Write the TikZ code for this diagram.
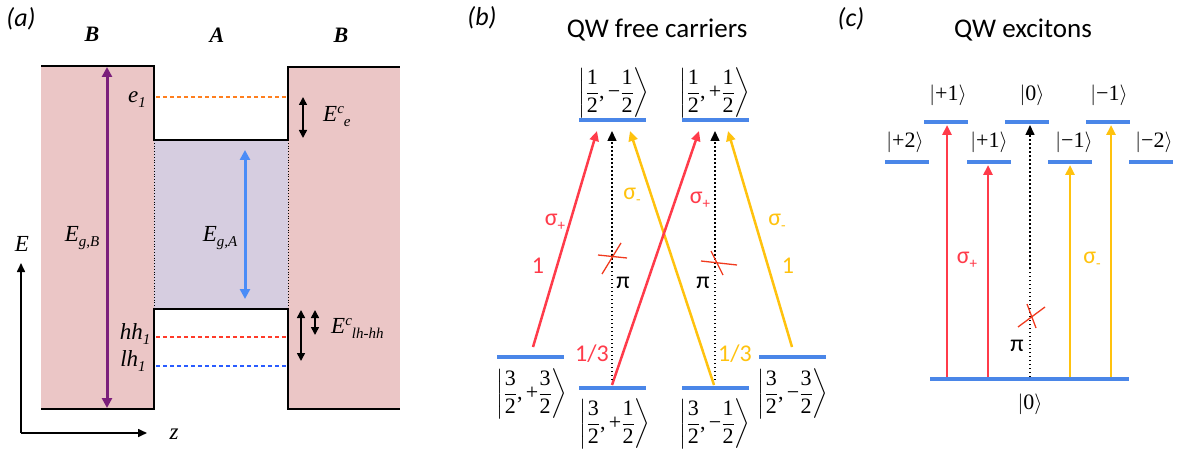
\documentclass[tikz,border=0pt]{standalone}
\usepackage{amsmath}
\usepackage{fontspec}
\setmainfont{Liberation Serif}
\newfontfamily\cfont{Carlito}
\usetikzlibrary{arrows.meta}
\definecolor{pinkB}{HTML}{EBC6C6}
\definecolor{wellA}{HTML}{D6CDE0}
\definecolor{purp}{HTML}{7B1F7B}
\definecolor{bluA}{HTML}{4A8CF7}
\definecolor{barblue}{HTML}{4A86E8}
\definecolor{sred}{HTML}{FF3B4A}
\definecolor{syel}{HTML}{FFC20E}
\definecolor{dorange}{HTML}{FF7F1E}
\definecolor{dred}{HTML}{FF3B2A}
\definecolor{dblue}{HTML}{2A5CFF}
\definecolor{xred}{HTML}{F03A1E}
\newcommand{\fs}[1]{\fontsize{#1}{#1}\selectfont}
\newcommand{\mysub}[1]{\raisebox{-5pt}{\fs{15}\textit{#1}}}
\newcommand{\mysup}[1]{\raisebox{8pt}{\fs{15}\textit{#1}}}
\newcommand{\tfr}[2]{\dfrac{\text{#1}}{\text{#2}}}
\newcommand{\myket}[3]{$\left|\tfr{#1}{2}\text{,}\,\text{#2}\tfr{#3}{2}\right\rangle$}
\newcommand{\sket}[1]{$|\text{#1}\rangle$}
\begin{document}
\begin{tikzpicture}[x=1pt,y=-1pt,
  lvl/.style={fill=barblue, minimum height=4.5pt, inner sep=0pt, draw=none},
  lbl/.style={inner sep=0pt, font=\fs{23}\itshape},
  panel/.style={inner sep=0pt, font=\cfont\fs{26}\itshape},
  ttl/.style={inner sep=0pt, font=\cfont\fs{27}},
  sl/.style={inner sep=0pt, font=\cfont\fs{24}},
  ketn/.style={inner sep=0pt, font=\fs{22}},
  tran/.style={line width=2.5pt, -{Triangle[length=10pt,width=9pt]}},
  dtran/.style={line width=1.5pt, dash pattern=on 1.5pt off 2.5pt, -{Triangle[length=10pt,width=9pt]}},
  dbl/.style={line width=1.6pt, {Triangle[length=8pt,width=8pt]}-{Triangle[length=8pt,width=8pt]}},
  xline/.style={xred, line width=1.3pt},
  lev/.style={dash pattern=on 4pt off 3pt, line width=1.4pt}
]
\useasboundingbox (0,0) rectangle (1177,454);

% ---------------- panel (a) ----------------
\fill[pinkB] (41,66) rectangle (154,409);
\fill[pinkB] (288,67) rectangle (400,409);
\fill[wellA] (154,140) rectangle (288,309);
\draw[dotted, line width=0.8pt] (154,140) -- (154,309) (288,140) -- (288,309);
\draw[line width=1.6pt] (41,66) -- (154,66) -- (154,140) -- (288,140) -- (288,67) -- (400,67);
\draw[line width=1.6pt] (41,409) -- (154,409) -- (154,309) -- (288,309) -- (288,409) -- (400,409);
\draw[lev, dorange] (156,97) -- (288,97);
\draw[lev, dred] (156,337) -- (288,337);
\draw[lev, dblue] (156,366) -- (288,366);
\draw[purp, line width=3pt, {Triangle[length=10pt,width=10pt]}-{Triangle[length=10pt,width=10pt]}] (107,67) -- (107,408);
\draw[bluA, line width=3pt, {Triangle[length=10pt,width=10pt]}-{Triangle[length=10pt,width=10pt]}] (245,150) -- (245,299);
\draw[dbl] (303,97) -- (303,138);
\draw[dbl] (301,310) -- (301,361);
\draw[dbl] (315,310) -- (315,335);
\coordinate (org) at (21,433);
\coordinate (eax) at (21,263);
\coordinate (zax) at (147,433);
\draw[line width=1.6pt, -{Triangle[length=9pt,width=8pt]}] (org) -- (eax);
\draw[line width=1.6pt, -{Triangle[length=9pt,width=8pt]}] (org) -- (zax);
\node[panel] (pa) at (21,19) {(a)};
\node[lbl, font=\fs{22}\bfseries\itshape] (tb1) at (92,34) {B};
\node[lbl, font=\fs{22}\bfseries\itshape] (ta) at (217,35) {A};
\node[lbl, font=\fs{22}\bfseries\itshape] (tb2) at (341,35) {B};
\node[lbl] (le1) at (137,100) {e\mysub{1}};
\node[lbl] (lhh) at (135,334) {hh\mysub{1}};
\node[lbl] (llh) at (133,361) {lh\mysub{1}};
\node[lbl] (legb) at (82,238) {E\mysub{g,B}};
\node[lbl] (lega) at (220,238) {E\mysub{g,A}};
\node[lbl, anchor=west] (lece) at (323,117) {E\mysup{c}\mysub{e}};
\node[lbl, anchor=west] (lecl) at (331,328) {E\mysup{c}\mysub{lh-hh}};
\node[lbl] (lE) at (22,244) {E};
\node[lbl] (lz) at (174,434) {z};

% ---------------- panel (b) ----------------
\node[panel] (pb) at (482,18) {(b)};
\node[ttl] (tb) at (657,30) {QW free carriers};
\node[lvl, minimum width=67pt] (u1) at (612.5,120) {};
\node[lvl, minimum width=67pt] (u2) at (715.5,120) {};
\node[lvl, minimum width=67pt] (d1) at (530.5,357) {};
\node[lvl, minimum width=67pt] (d2) at (612.5,388) {};
\node[lvl, minimum width=67pt] (d3) at (715.5,388) {};
\node[lvl, minimum width=67pt] (d4) at (792.5,357) {};
\node[ketn] (ku1) at (614,93) {\myket{1}{−}{1}};
\node[ketn] (ku2) at (715,93) {\myket{1}{+}{1}};
\node[ketn] (kd1) at (532,394) {\myket{3}{+}{3}};
\node[ketn] (kd2) at (615,424) {\myket{3}{+}{1}};
\node[ketn] (kd3) at (715,424) {\myket{3}{−}{1}};
\node[ketn] (kd4) at (793,394) {\myket{3}{−}{3}};
\coordinate (r1s) at (533,347);  \coordinate (r1e) at (597,131);
\coordinate (y1s) at (714,385);  \coordinate (y1e) at (630,131);
\coordinate (r2s) at (612,385);  \coordinate (r2e) at (699,131);
\coordinate (y2s) at (792,347);  \coordinate (y2e) at (728,131);
\coordinate (p1s) at (612,380);  \coordinate (p1e) at (612,131);
\coordinate (p2s) at (715,380);  \coordinate (p2e) at (715,131);
\draw[tran, sred] (r1s) -- (r1e);
\draw[tran, syel] (y1s) -- (y1e);
\draw[tran, sred] (r2s) -- (r2e);
\draw[tran, syel] (y2s) -- (y2e);
\draw[dtran] (p1s) -- (p1e);
\draw[dtran] (p2s) -- (p2e);
\draw[xline] (598,255) -- (627,258) (621,243) -- (602,274);
\draw[xline] (701,261) -- (737,265) (711,251) -- (723,275);
\node[sl, sred] (s1) at (555,222) {σ\raisebox{-5pt}{\fs{15}+}};
\node[sl, syel] (s2) at (632,196) {σ\raisebox{-5pt}{\fs{15}-}};
\node[sl, sred] (s3) at (700,200) {σ\raisebox{-5pt}{\fs{15}+}};
\node[sl, syel] (s4) at (777,222) {σ\raisebox{-5pt}{\fs{15}-}};
\node[sl, sred] (n1) at (538,266) {1};
\node[sl, syel] (n2) at (788,266) {1};
\node[sl, sred] (n3) at (592,354) {1/3};
\node[sl, syel] (n4) at (735,354) {1/3};
\node[sl] (pi1) at (623,283) {π};
\node[sl] (pi2) at (703,283) {π};

% ---------------- panel (c) ----------------
\node[panel] (pc) at (851,19) {(c)};
\node[ttl] (tc) at (1023,30) {QW excitons};
\node[lvl, minimum width=44pt] (c1) at (946,122) {};
\node[lvl, minimum width=44pt] (c2) at (1027,122) {};
\node[lvl, minimum width=44pt] (c3) at (1108,122) {};
\node[lvl, minimum width=44pt] (c4) at (907,162) {};
\node[lvl, minimum width=44pt] (c5) at (988.5,162) {};
\node[lvl, minimum width=44pt] (c6) at (1070,162) {};
\node[lvl, minimum width=44pt] (c7) at (1151,162) {};
\node[lvl, minimum width=199pt] (cg) at (1029.5,379) {};
\node[ketn] (kc1) at (948,95) {\sket{+1}};
\node[ketn] (kc2) at (1032,95) {\sket{0}};
\node[ketn] (kc3) at (1109,95) {\sket{−1}};
\node[ketn] (kc4) at (905,142) {\sket{+2}};
\node[ketn] (kc5) at (989,142) {\sket{+1}};
\node[ketn] (kc6) at (1074,142) {\sket{−1}};
\node[ketn] (kc7) at (1154,142) {\sket{−2}};
\node[ketn] (kcg) at (1030,404) {\sket{0}};
\coordinate (a1s) at (947,377);  \coordinate (a1e) at (947,125);
\coordinate (a2s) at (988,377);  \coordinate (a2e) at (988,165);
\coordinate (a3s) at (1030,377); \coordinate (a3e) at (1030,125);
\coordinate (a4s) at (1070,377); \coordinate (a4e) at (1070,165);
\coordinate (a5s) at (1111,377); \coordinate (a5e) at (1111,125);
\draw[tran, sred] (a1s) -- (a1e);
\draw[tran, sred] (a2s) -- (a2e);
\draw[dtran] (a3s) -- (a3e);
\draw[tran, syel] (a4s) -- (a4e);
\draw[tran, syel] (a5s) -- (a5e);
\draw[xline] (1018,327) -- (1045,307) (1027,304) -- (1036,328);
\node[sl, sred] (cs1) at (967,260) {σ\raisebox{-5pt}{\fs{15}+}};
\node[sl, syel] (cs2) at (1092,260) {σ\raisebox{-5pt}{\fs{15}-}};
\node[sl] (cpi) at (1017,346) {π};
\end{tikzpicture}
\end{document}
